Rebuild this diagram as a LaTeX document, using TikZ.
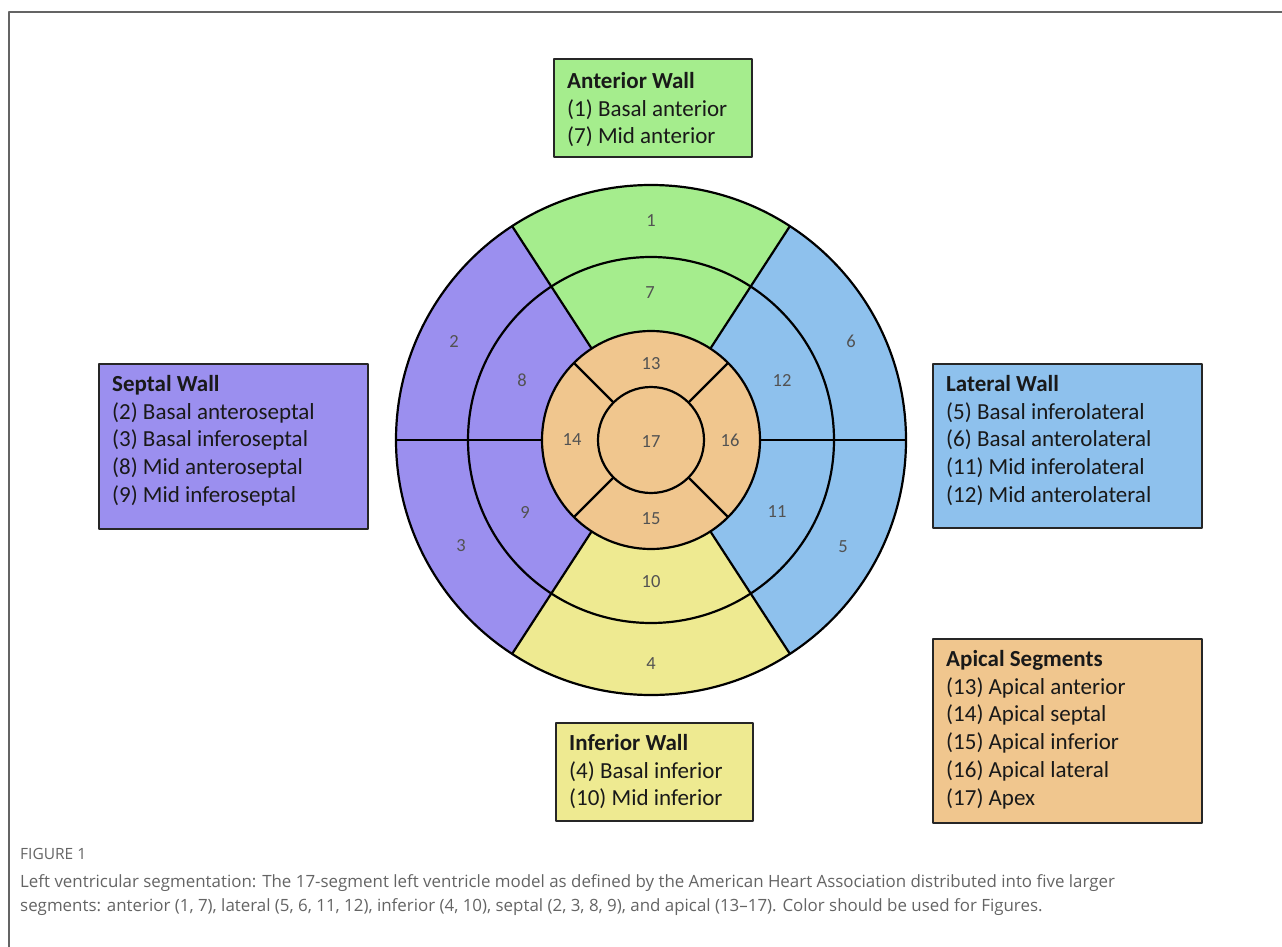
\documentclass[tikz,border=0pt]{standalone}
\usepackage{fontspec}
\setmainfont{Carlito}
\newfontfamily\capfont{Open Sans}
\definecolor{antgreen}{RGB}{165,237,141}
\definecolor{septpurple}{RGB}{155,143,239}
\definecolor{latblue}{RGB}{142,193,237}
\definecolor{infyellow}{RGB}{238,234,145}
\definecolor{apicorange}{RGB}{240,198,142}
\definecolor{capgray}{RGB}{100,100,100}
\begin{document}
\begin{tikzpicture}[x=1pt,y=-1pt,line join=round,
  wallbox/.style={draw=black!85,line width=1.6pt,anchor=north west,inner sep=0pt},
  walltext/.style={anchor=north west,align=left,inner sep=0pt,text=black!90,
    font=\fontsize{23}{27.8}\selectfont},
  seglabel/.style={text=black!68,font=\fontsize{18.5}{18.5}\selectfont},
  rim/.style={line width=2.2pt}]
\useasboundingbox (0,0) rectangle (1282,947);
\draw[capgray,line width=1.5pt] (9,947) -- (9,12) -- (1282,12);
\coordinate (ctr) at (651,440);
\foreach \a/\b/\col in {57/123/antgreen,123/180/septpurple,180/237/septpurple,
    237/303/infyellow,303/360/latblue,0/57/latblue}
  \fill[\col,shift={(ctr)}] (\a:255pt) arc (\a:\b:255pt) -- (\b:109pt) arc (\b:\a:109pt) -- cycle;
\fill[apicorange] (ctr) circle (109pt);
\draw[rim] (ctr) circle (255pt) (ctr) circle (183pt) (ctr) circle (109pt) (ctr) circle (53pt);
\foreach \a in {0,57,123,180,237,303}
  \draw[rim,shift={(ctr)}] (\a:109pt) -- (\a:255pt);
\foreach \a in {45,135,225,315}
  \draw[rim,shift={(ctr)}] (\a:53pt) -- (\a:109pt);
\node[seglabel] (s1) at (651,221) {1};
\node[seglabel] (s2) at (454,341) {2};
\node[seglabel] (s3) at (461,546) {3};
\node[seglabel] (s4) at (651,664) {4};
\node[seglabel] (s5) at (843,547) {5};
\node[seglabel] (s6) at (851,341) {6};
\node[seglabel] (s7) at (650,293) {7};
\node[seglabel] (s8) at (522,380) {8};
\node[seglabel] (s9) at (525,512) {9};
\node[seglabel] (s10) at (651,582) {10};
\node[seglabel] (s11) at (777,512) {11};
\node[seglabel] (s12) at (782,380) {12};
\node[seglabel] (s13) at (651,364) {13};
\node[seglabel] (s14) at (572,440) {14};
\node[seglabel] (s15) at (651,519) {15};
\node[seglabel] (s16) at (730,440) {16};
\node[seglabel] (s17) at (651,442) {17};
\node[wallbox,fill=antgreen,minimum width=198pt,minimum height=98pt] (anterior) at (553,58) {};
\node[walltext] (antlist) at ([xshift=14pt,yshift=-14pt]anterior.north west)
  {\textbf{Anterior Wall}\\(1) Basal anterior\\(7) Mid anterior};
\node[wallbox,fill=septpurple,minimum width=269pt,minimum height=165pt] (septal) at (98,363) {};
\node[walltext] (septlist) at ([xshift=14pt,yshift=-12pt]septal.north west)
  {\textbf{Septal Wall}\\(2) Basal anteroseptal\\(3) Basal inferoseptal\\(8) Mid anteroseptal\\(9) Mid inferoseptal};
\node[wallbox,fill=latblue,minimum width=269pt,minimum height=164pt] (lateral) at (932,363) {};
\node[walltext] (latlist) at ([xshift=14pt,yshift=-12pt]lateral.north west)
  {\textbf{Lateral Wall}\\(5) Basal inferolateral\\(6) Basal anterolateral\\(11) Mid inferolateral\\(12) Mid anterolateral};
\node[wallbox,fill=apicorange,minimum width=269pt,minimum height=184pt] (apical) at (932,638) {};
\node[walltext] (apiclist) at ([xshift=14pt,yshift=-12pt]apical.north west)
  {\textbf{Apical Segments}\\(13) Apical anterior\\(14) Apical septal\\(15) Apical inferior\\(16) Apical lateral\\(17) Apex};
\node[wallbox,fill=infyellow,minimum width=197pt,minimum height=98pt] (inferior) at (555,722) {};
\node[walltext] (inflist) at ([xshift=14pt,yshift=-12pt]inferior.north west)
  {\textbf{Inferior Wall}\\(4) Basal inferior\\(10) Mid inferior};
\node[anchor=west,inner sep=0pt,text=capgray,font=\capfont\fontsize{15.5}{15.5}\selectfont] (fig) at (20,854) {FIGURE 1};
\node[anchor=north west,align=left,inner sep=0pt,text=capgray,font=\capfont\fontsize{16.9}{24.5}\selectfont] (caption) at (20,874)
  {Left ventricular segmentation: The 17-segment left ventricle model as defined by the American Heart Association distributed into five larger\\
   segments: anterior (1, 7), lateral (5, 6, 11, 12), inferior (4, 10), septal (2, 3, 8, 9), and apical (13–17). Color should be used for Figures.};
\end{tikzpicture}
\end{document}
